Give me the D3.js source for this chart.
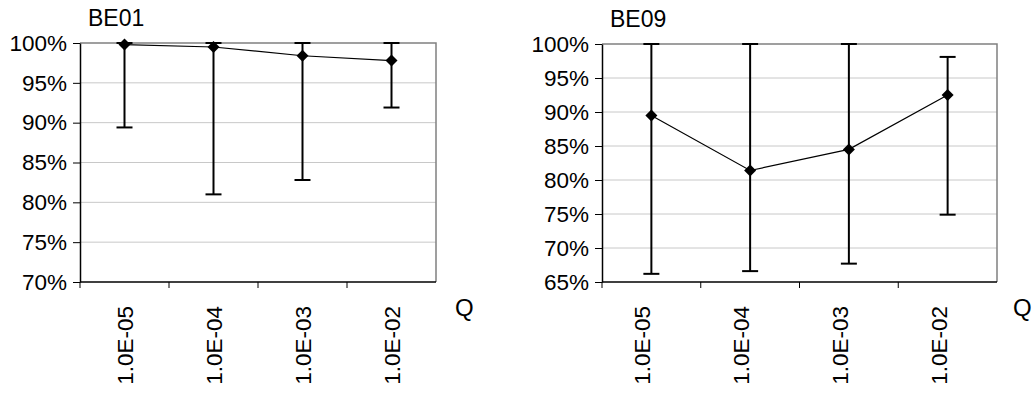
<!DOCTYPE html>
<html>
<head>
<meta charset="utf-8">
<script src="https://cdn.jsdelivr.net/npm/d3@7"></script>
<style>
  body { margin: 0; background: #fff; }
  text { font-family: "Liberation Sans", Arial, sans-serif; fill: #000; }
</style>
</head>
<body>
<svg id="chart" width="1032" height="394"></svg>
<script>
// categories on the x axis (Q)
const categories = ["1.0E-05", "1.0E-04", "1.0E-03", "1.0E-02"]

// BE01 panel
const be01Values = [0.998, 0.995, 0.984, 0.978]
const be01Low = [0.894, 0.810, 0.828, 0.919]
const be01High = [1.0, 1.0, 1.0, 1.0]
const be01Ticks = [0.70, 0.75, 0.80, 0.85, 0.90, 0.95, 1.00]

// BE09 panel
const be09Values = [0.895, 0.814, 0.845, 0.925]
const be09Low = [0.662, 0.666, 0.677, 0.749]
const be09High = [1.0, 1.0, 1.0, 0.981]
const be09Ticks = [0.65, 0.70, 0.75, 0.80, 0.85, 0.90, 0.95, 1.00]

var svg = d3.select("#chart")

function drawPanel(p) {
  var rows = categories.map((c, i) => ({ cat: c, v: p.values[i], lo: p.low[i], hi: p.high[i] }))

  var x = d3.scaleBand()
    .domain(categories)
    .range([p.left, p.right])
  var y = d3.scaleLinear()
    .domain(d3.extent(p.ticks))
    .range([p.bottom, p.top])

  var g = svg.append("g")

  // gridlines
  g.append("g")
    .selectAll("line")
    .data(p.ticks.slice(1, -1))
    .join("line")
    .attr("x1", p.left).attr("x2", p.right)
    .attr("y1", d => y(d)).attr("y2", d => y(d))
    .attr("stroke", "#c8c8c8")
    .attr("stroke-width", 1)

  // plot border (top/right grey)
  g.append("path")
    .attr("d", `M${p.left},${p.top}H${p.right}V${p.bottom}`)
    .attr("fill", "none")
    .attr("stroke", "#808080")
    .attr("stroke-width", 1.5)

  // y axis
  var yAxis = d3.axisLeft(y)
    .tickValues(p.ticks)
    .tickFormat(d3.format(".0%"))
    .tickSize(7)
    .tickSizeOuter(0)
    .tickPadding(6)
  var ya = g.append("g")
    .attr("transform", `translate(${p.left},0)`)
    .call(yAxis)
  ya.select(".domain").attr("stroke", "#000").attr("stroke-width", 1.5)
  ya.selectAll(".tick line").attr("stroke", "#000")
  ya.selectAll(".tick text")
    .attr("font-size", 22.5)
    .attr("font-family", "Liberation Sans, Arial, sans-serif")
    .attr("fill", "#000")

  // x axis: line plus ticks at band starts
  g.append("line")
    .attr("x1", p.left).attr("x2", p.right)
    .attr("y1", p.bottom).attr("y2", p.bottom)
    .attr("stroke", "#000").attr("stroke-width", 1.5)
  g.append("g")
    .selectAll("line")
    .data(categories)
    .join("line")
    .attr("x1", d => x(d)).attr("x2", d => x(d))
    .attr("y1", p.bottom).attr("y2", p.bottom + 6)
    .attr("stroke", "#000")

  g.append("g")
    .selectAll("text")
    .data(categories)
    .join("text")
    .attr("transform", d => `translate(${x(d) + x.bandwidth() / 2 + p.labelShift},${p.bottom + 24}) rotate(-90)`)
    .attr("text-anchor", "end")
    .attr("dy", "0.36em")
    .attr("font-size", 22.5)
    .text(d => d)

  // axis title Q
  g.append("text")
    .attr("x", p.qx).attr("y", p.bottom + 34)
    .attr("font-size", 24)
    .text("Q")

  // panel title
  g.append("text")
    .attr("x", p.left + 8).attr("y", p.top - 17)
    .attr("font-size", 23)
    .text(p.title)

  var cx = d => x(d.cat) + x.bandwidth() / 2

  // error bars
  var eb = g.append("g").attr("stroke", "#000").attr("stroke-width", 2)
  eb.selectAll("line.bar")
    .data(rows)
    .join("line")
    .attr("class", "bar")
    .attr("x1", cx).attr("x2", cx)
    .attr("y1", d => y(d.lo)).attr("y2", d => y(d.hi))
  eb.selectAll("line.lo")
    .data(rows)
    .join("line")
    .attr("class", "lo")
    .attr("x1", d => cx(d) - 8).attr("x2", d => cx(d) + 8)
    .attr("y1", d => y(d.lo)).attr("y2", d => y(d.lo))
  eb.selectAll("line.hi")
    .data(rows)
    .join("line")
    .attr("class", "hi")
    .attr("x1", d => cx(d) - 8).attr("x2", d => cx(d) + 8)
    .attr("y1", d => y(d.hi)).attr("y2", d => y(d.hi))

  // series line
  var line = d3.line()
    .x(cx)
    .y(d => y(d.v))
  g.append("path")
    .datum(rows)
    .attr("fill", "none")
    .attr("stroke", "#000")
    .attr("stroke-width", 1.2)
    .attr("d", line)

  // diamond markers
  g.append("g")
    .selectAll("path")
    .data(rows)
    .join("path")
    .attr("transform", d => `translate(${cx(d)},${y(d.v)}) rotate(45)`)
    .attr("d", d3.symbol(d3.symbolSquare, 72))
    .attr("fill", "#000")
}

drawPanel({
  title: "BE01", values: be01Values, low: be01Low, high: be01High, ticks: be01Ticks,
  left: 80, right: 436, top: 43, bottom: 282, labelShift: 0, qx: 455
})
drawPanel({
  title: "BE09", values: be09Values, low: be09Low, high: be09High, ticks: be09Ticks,
  left: 602, right: 997, top: 44, bottom: 282, labelShift: -9, qx: 1013
})
</script>
</body>
</html>
